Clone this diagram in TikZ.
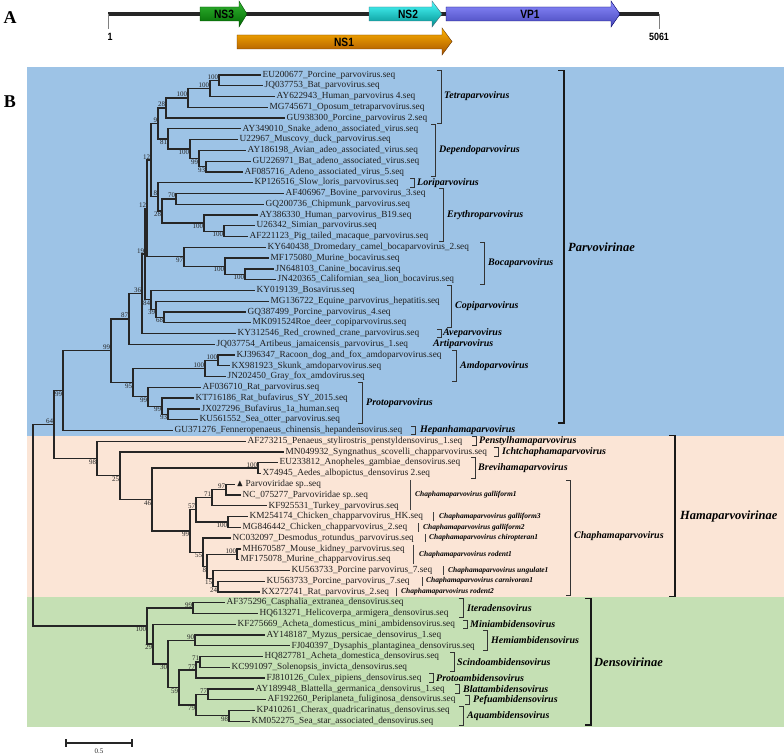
\documentclass[tikz,border=0pt]{standalone}
\usepackage{fontspec}
\usepackage{amssymb}
\setmainfont{Liberation Serif}
\newfontfamily\genefont[FakeStretch=0.85]{Liberation Sans}
\definecolor{parvoblue}{HTML}{9DC3E6}
\definecolor{hamapeach}{HTML}{FBE5D6}
\definecolor{densogreen}{HTML}{C5E0B4}

\begin{document}
\begin{tikzpicture}
      [
        x=1pt, y=-1pt,
        leaf/.style={anchor=west, inner xsep=1.5pt, inner ysep=0pt, font=\fontsize{9.3}{10}\selectfont, text=black!88},
        boot/.style={inner sep=0.8pt, font=\fontsize{7}{8}\selectfont, text=black!85},
        branch/.style={draw=black!85, line width=1.3pt},
        gbrack/.style={draw=black!80, line width=0.8pt},
        fbrack/.style={draw=black!90, line width=1.4pt},
        sbar/.style={draw=black!75, line width=0.6pt},
        genus/.style={anchor=west, inner sep=0pt, font=\fontsize{10}{11}\selectfont\bfseries\itshape},
        species/.style={anchor=west, inner sep=0pt, font=\fontsize{7.5}{8}\selectfont\bfseries\itshape},
        family/.style={anchor=west, inner sep=0pt, font=\fontsize{12.5}{13}\selectfont\bfseries\itshape},
        gene/.style={inner sep=0pt, font=\genefont\fontsize{12}{12}\selectfont\bfseries},
        ntpos/.style={inner sep=0pt, font=\genefont\fontsize{10.5}{11}\selectfont\bfseries},
        panel/.style={inner sep=0pt, font=\fontsize{18}{18}\selectfont\bfseries}
      ]
      \useasboundingbox (0,0) rectangle (784,754);
      \fill[parvoblue] (27,67) rectangle (784,436);
      \fill[hamapeach] (27,436) rectangle (784,597);
      \fill[densogreen] (27,597) rectangle (784,727);

      \node[panel] (pa) at (10,18) {A};
      \node[panel] (pb) at (10,102) {B};
      \draw[line width=4.5pt, black!85] (108,14) -- (659,14);
      \draw[black!50, line width=0.6pt] (108,14) -- (108,29);
      \draw[black!50, line width=0.6pt] (659,14) -- (659,29);
      \node[ntpos] (p1) at (110,37) {1};
      \node[ntpos] (p5061) at (659,37) {5061};
      \shade[top color=green!65!black!80, bottom color=green!40!black, draw=green!30!black, line width=0.4pt]
        (200,7) -- (239,7) -- (239,1) -- (247,14) -- (239,27) -- (239,21) -- (200,21) -- cycle;
      \shade[top color=cyan!70!white, bottom color=cyan!55!black, draw=cyan!40!black, line width=0.4pt]
        (369,7) -- (432,7) -- (432,1) -- (442,14) -- (432,27) -- (432,21) -- (369,21) -- cycle;
      \shade[top color=blue!45!white, bottom color=blue!45!gray, draw=blue!40!black, line width=0.4pt]
        (446,7) -- (611,7) -- (611,1) -- (620,14) -- (611,27) -- (611,21) -- (446,21) -- cycle;
      \shade[top color=orange!60!yellow, bottom color=orange!65!black, draw=orange!40!black, line width=0.4pt]
        (237,35) -- (442,35) -- (442,28) -- (452,41.5) -- (442,55) -- (442,49) -- (237,49) -- cycle;
      \node[gene] (ns3) at (224,14) {NS3};
      \node[gene] (ns2) at (408,14) {NS2};
      \node[gene] (vp1) at (530,14) {VP1};
      \node[gene] (ns1) at (344,42) {NS1};

      \draw[line width=1.5pt, black!85] (66,743) -- (132,743);
      \draw[line width=1.5pt, black!85] (66,739) -- (66,747);
      \draw[line width=1.5pt, black!85] (132,739) -- (132,747);
      \node[boot] (scale) at (99,751) {0.5};

      \begin{scope}[yshift=-64.23pt, y=-10.77pt]
      \node[leaf] (l1) at (261,1) {EU200677\_Porcine\_parvovirus.seq};
      \node[leaf] (l2) at (263,2) {JQ037753\_Bat\_parvovirus.seq};
      \node[leaf] (l3) at (275,3) {AY622943\_Human\_parvovirus 4.seq};
      \node[leaf] (l4) at (268,4) {MG745671\_Oposum\_tetraparvovirus.seq};
      \node[leaf] (l5) at (285,5) {GU938300\_Porcine\_parvovirus 2.seq};
      \node[leaf] (l6) at (241,6) {AY349010\_Snake\_adeno\_associated\_virus.seq};
      \node[leaf] (l7) at (238,7) {U22967\_Muscovy\_duck\_parvovirus.seq};
      \node[leaf] (l8) at (246,8) {AY186198\_Avian\_adeo\_associated\_virus.seq};
      \node[leaf] (l9) at (251,9) {GU226971\_Bat\_adeno\_associated\_virus.seq};
      \node[leaf] (l10) at (243,10) {AF085716\_Adeno\_associated\_virus\_5.seq};
      \node[leaf] (l11) at (253,11) {KP126516\_Slow\_loris\_parvovirus.seq};
      \node[leaf] (l12) at (284,12) {AF406967\_Bovine\_parvovirus\_3.seq};
      \node[leaf] (l13) at (264,13) {GQ200736\_Chipmunk\_parvovirus.seq};
      \node[leaf] (l14) at (258,14) {AY386330\_Human\_parvovirus\_B19.seq};
      \node[leaf] (l15) at (255,15) {U26342\_Simian\_parvovirus.seq};
      \node[leaf] (l16) at (248,16) {AF221123\_Pig\_tailed\_macaque\_parvovirus.seq};
      \node[leaf] (l17) at (266,17) {KY640438\_Dromedary\_camel\_bocaparvovirus\_2.seq};
      \node[leaf] (l18) at (269,18) {MF175080\_Murine\_bocavirus.seq};
      \node[leaf] (l19) at (274,19) {JN648103\_Canine\_bocavirus.seq};
      \node[leaf] (l20) at (276,20) {JN420365\_Californian\_sea\_lion\_bocavirus.seq};
      \node[leaf] (l21) at (255,21) {KY019139\_Bosavirus.seq};
      \node[leaf] (l22) at (269,22) {MG136722\_Equine\_parvovirus\_hepatitis.seq};
      \node[leaf] (l23) at (246,23) {GQ387499\_Porcine\_parvovirus\_4.seq};
      \node[leaf] (l24) at (251,24) {MK091524Roe\_deer\_copiparvovirus.seq};
      \node[leaf] (l25) at (236,25) {KY312546\_Red\_crowned\_crane\_parvovirus.seq};
      \node[leaf] (l26) at (215,26) {JQ037754\_Artibeus\_jamaicensis\_parvovirus\_1.seq};
      \node[leaf] (l27) at (235,27) {KJ396347\_Racoon\_dog\_and\_fox\_amdoparvovirus.seq};
      \node[leaf] (l28) at (230,28) {KX981923\_Skunk\_amdoparvovirus.seq};
      \node[leaf] (l29) at (226,29) {JN202450\_Gray\_fox\_amdovirus.seq};
      \node[leaf] (l30) at (201,30) {AF036710\_Rat\_parvovirus.seq};
      \node[leaf] (l31) at (194,31) {KT716186\_Rat\_bufavirus\_SY\_2015.seq};
      \node[leaf] (l32) at (200,32) {JX027296\_Bufavirus\_1a\_human.seq};
      \node[leaf] (l33) at (198,33) {KU561552\_Sea\_otter\_parvovirus.seq};
      \node[leaf] (l34) at (173,34) {GU371276\_Fenneropenaeus\_chinensis\_hepandensovirus.seq};
      \node[leaf] (l35) at (246,35) {AF273215\_Penaeus\_stylirostris\_penstyldensovirus\_1.seq};
      \node[leaf] (l36) at (284,36) {MN049932\_Syngnathus\_scovelli\_chapparvovirus.seq};
      \node[leaf] (l37) at (278,37) {EU233812\_Anopheles\_gambiae\_densovirus.seq};
      \node[leaf] (l38) at (261,38) {X74945\_Aedes\_albopictus\_densovirus 2.seq};
      \node[leaf] (l39) at (235,39) {$\blacktriangle$ Parvoviridae sp..seq};
      \node[leaf] (l40) at (241,40) {NC\_075277\_Parvoviridae sp..seq};
      \node[leaf] (l41) at (267,41) {KF925531\_Turkey\_parvovirus.seq};
      \node[leaf] (l42) at (248,42) {KM254174\_Chicken\_chapparvovirus\_HK.seq};
      \node[leaf] (l43) at (241,43) {MG846442\_Chicken\_chapparvovirus\_2.seq};
      \node[leaf] (l44) at (231,44) {NC032097\_Desmodus\_rotundus\_parvovirus.seq};
      \node[leaf] (l45) at (241,45) {MH670587\_Mouse\_kidney\_parvovirus.seq};
      \node[leaf] (l46) at (239,46) {MF175078\_Murine\_chapparvovirus.seq};
      \node[leaf] (l47) at (290,47) {KU563733\_Porcine parvovirus\_7.seq};
      \node[leaf] (l48) at (265,48) {KU563733\_Porcine\_parvovirus\_7.seq};
      \node[leaf] (l49) at (260,49) {KX272741\_Rat\_parvovirus\_2.seq};
      \node[leaf] (l50) at (225,50) {AF375296\_Casphalia\_extranea\_densovirus.seq};
      \node[leaf] (l51) at (258,51) {HQ613271\_Helicoverpa\_armigera\_densovirus.seq};
      \node[leaf] (l52) at (236,52) {KF275669\_Acheta\_domesticus\_mini\_ambidensovirus.seq};
      \node[leaf] (l53) at (265,53) {AY148187\_Myzus\_persicae\_densovirus\_1.seq};
      \node[leaf] (l54) at (290,54) {FJ040397\_Dysaphis\_plantaginea\_densovirus.seq};
      \node[leaf] (l55) at (263,55) {HQ827781\_Acheta\_domestica\_densovirus.seq};
      \node[leaf] (l56) at (230,56) {KC991097\_Solenopsis\_invicta\_densovirus.seq};
      \node[leaf] (l57) at (265,57) {FJ810126\_Culex\_pipiens\_densovirus.seq};
      \node[leaf] (l58) at (254,58) {AY189948\_Blattella\_germanica\_densovirus\_1.seq};
      \node[leaf] (l59) at (266,59) {AF192260\_Periplaneta\_fuliginosa\_densovirus.seq};
      \node[leaf] (l60) at (255,60) {KP410261\_Cherax\_quadricarinatus\_densovirus.seq};
      \node[leaf] (l61) at (250,61) {KM052275\_Sea\_star\_associated\_densovirus.seq};

      \coordinate (t1) at (219,1.5);
      \coordinate (t2) at (210,2.25);
      \coordinate (t3) at (188,3.125);
      \coordinate (t4) at (166,4.0625);
      \coordinate (d1) at (206,9.5);
      \coordinate (d2) at (199,8.75);
      \coordinate (d3) at (190,7.875);
      \coordinate (d4) at (168,6.9375);
      \coordinate (n9) at (158,5.5);
      \coordinate (e1) at (224,15.5);
      \coordinate (e2) at (204,14.75);
      \coordinate (e3) at (176,12.5);
      \coordinate (e4) at (162,13.625);
      \coordinate (n8) at (158,12.3125);
      \coordinate (n12a) at (151,8.906);
      \coordinate (b1) at (245,19.5);
      \coordinate (b2) at (225,18.75);
      \coordinate (b3) at (184,17.875);
      \coordinate (n12b) at (147,13.39);
      \coordinate (c1) at (164,23.5);
      \coordinate (c2) at (156,22.75);
      \coordinate (c3) at (151,21.875);
      \coordinate (n19) at (145,17.63);
      \coordinate (n36) at (142,21.32);
      \coordinate (n87) at (129,23.66);
      \coordinate (a1) at (218,27.5);
      \coordinate (a2) at (205,28.25);
      \coordinate (p3) at (168,32.5);
      \coordinate (p2) at (162,31.75);
      \coordinate (p1) at (148,30.875);
      \coordinate (n95) at (133,29.5625);
      \coordinate (n99a) at (111,26.61);
      \coordinate (n99b) at (63,30.305);
      \coordinate (h97) at (226,39.5);
      \coordinate (h71) at (212,40.25);
      \coordinate (h100) at (228,42.5);
      \coordinate (h57) at (196,41.375);
      \coordinate (r100) at (237,45.5);
      \coordinate (r24) at (218,48.5);
      \coordinate (r15) at (213,47.75);
      \coordinate (r8) at (207,46.625);
      \coordinate (r55) at (203,45.3125);
      \coordinate (h99) at (190,43.34);
      \coordinate (br) at (258,37.5);
      \coordinate (h46) at (152,40.42);
      \coordinate (h25) at (120,38.21);
      \coordinate (h98) at (97,36.6);
      \coordinate (n64) at (54,33.45);
      \coordinate (s99) at (193,50.5);
      \coordinate (s90) at (195,53.5);
      \coordinate (s71) at (200,55.5);
      \coordinate (s77a) at (196,56.25);
      \coordinate (s77b) at (208,58.5);
      \coordinate (s98) at (229,60.5);
      \coordinate (s79) at (196,59.5);
      \coordinate (s59) at (179,57.875);
      \coordinate (s30) at (168,55.69);
      \coordinate (s29) at (153,53.84);
      \coordinate (s100) at (147,52.17);
      \coordinate (root) at (33,42.81);

      \draw[branch] (t1) |- (l1.west);
      \draw[branch] (t1) |- (l2.west);
      \draw[branch] (t2) |- (t1);
      \draw[branch] (t2) |- (l3.west);
      \draw[branch] (t3) |- (t2);
      \draw[branch] (t3) |- (l4.west);
      \draw[branch] (t4) |- (t3);
      \draw[branch] (t4) |- (l5.west);
      \draw[branch] (d1) |- (l9.west);
      \draw[branch] (d1) |- (l10.west);
      \draw[branch] (d2) |- (l8.west);
      \draw[branch] (d2) |- (d1);
      \draw[branch] (d3) |- (l7.west);
      \draw[branch] (d3) |- (d2);
      \draw[branch] (d4) |- (l6.west);
      \draw[branch] (d4) |- (d3);
      \draw[branch] (n9) |- (t4);
      \draw[branch] (n9) |- (d4);
      \draw[branch] (e1) |- (l15.west);
      \draw[branch] (e1) |- (l16.west);
      \draw[branch] (e2) |- (l14.west);
      \draw[branch] (e2) |- (e1);
      \draw[branch] (e3) |- (l12.west);
      \draw[branch] (e3) |- (l13.west);
      \draw[branch] (e4) |- (e3);
      \draw[branch] (e4) |- (e2);
      \draw[branch] (n8) |- (l11.west);
      \draw[branch] (n8) |- (e4);
      \draw[branch] (n12a) |- (n9);
      \draw[branch] (n12a) |- (n8);
      \draw[branch] (b1) |- (l19.west);
      \draw[branch] (b1) |- (l20.west);
      \draw[branch] (b2) |- (l18.west);
      \draw[branch] (b2) |- (b1);
      \draw[branch] (b3) |- (l17.west);
      \draw[branch] (b3) |- (b2);
      \draw[branch] (n12b) |- (n12a);
      \draw[branch] (n12b) |- (b3);
      \draw[branch] (c1) |- (l23.west);
      \draw[branch] (c1) |- (l24.west);
      \draw[branch] (c2) |- (l22.west);
      \draw[branch] (c2) |- (c1);
      \draw[branch] (c3) |- (l21.west);
      \draw[branch] (c3) |- (c2);
      \draw[branch] (n19) |- (n12b);
      \draw[branch] (n19) |- (c3);
      \draw[branch] (n36) |- (n19);
      \draw[branch] (n36) |- (l25.west);
      \draw[branch] (n87) |- (n36);
      \draw[branch] (n87) |- (l26.west);
      \draw[branch] (a1) |- (l27.west);
      \draw[branch] (a1) |- (l28.west);
      \draw[branch] (a2) |- (a1);
      \draw[branch] (a2) |- (l29.west);
      \draw[branch] (p3) |- (l32.west);
      \draw[branch] (p3) |- (l33.west);
      \draw[branch] (p2) |- (l31.west);
      \draw[branch] (p2) |- (p3);
      \draw[branch] (p1) |- (l30.west);
      \draw[branch] (p1) |- (p2);
      \draw[branch] (n95) |- (a2);
      \draw[branch] (n95) |- (p1);
      \draw[branch] (n99a) |- (n87);
      \draw[branch] (n99a) |- (n95);
      \draw[branch] (n99b) |- (n99a);
      \draw[branch] (n99b) |- (l34.west);
      \draw[branch] (h97) |- (l39.west);
      \draw[branch] (h97) |- (l40.west);
      \draw[branch] (h71) |- (h97);
      \draw[branch] (h71) |- (l41.west);
      \draw[branch] (h100) |- (l42.west);
      \draw[branch] (h100) |- (l43.west);
      \draw[branch] (h57) |- (h71);
      \draw[branch] (h57) |- (h100);
      \draw[branch] (r100) |- (l45.west);
      \draw[branch] (r100) |- (l46.west);
      \draw[branch] (r24) |- (l48.west);
      \draw[branch] (r24) |- (l49.west);
      \draw[branch] (r15) |- (l47.west);
      \draw[branch] (r15) |- (r24);
      \draw[branch] (r8) |- (r100);
      \draw[branch] (r8) |- (r15);
      \draw[branch] (r55) |- (l44.west);
      \draw[branch] (r55) |- (r8);
      \draw[branch] (h99) |- (h57);
      \draw[branch] (h99) |- (r55);
      \draw[branch] (br) |- (l37.west);
      \draw[branch] (br) |- (l38.west);
      \draw[branch] (h46) |- (br);
      \draw[branch] (h46) |- (h99);
      \draw[branch] (h25) |- (l36.west);
      \draw[branch] (h25) |- (h46);
      \draw[branch] (h98) |- (l35.west);
      \draw[branch] (h98) |- (h25);
      \draw[branch] (n64) |- (n99b);
      \draw[branch] (n64) |- (h98);
      \draw[branch] (s99) |- (l50.west);
      \draw[branch] (s99) |- (l51.west);
      \draw[branch] (s90) |- (l53.west);
      \draw[branch] (s90) |- (l54.west);
      \draw[branch] (s71) |- (l55.west);
      \draw[branch] (s71) |- (l56.west);
      \draw[branch] (s77a) |- (s71);
      \draw[branch] (s77a) |- (l57.west);
      \draw[branch] (s77b) |- (l58.west);
      \draw[branch] (s77b) |- (l59.west);
      \draw[branch] (s98) |- (l60.west);
      \draw[branch] (s98) |- (l61.west);
      \draw[branch] (s79) |- (s77b);
      \draw[branch] (s79) |- (s98);
      \draw[branch] (s59) |- (s77a);
      \draw[branch] (s59) |- (s79);
      \draw[branch] (s30) |- (s90);
      \draw[branch] (s30) |- (s59);
      \draw[branch] (s29) |- (l52.west);
      \draw[branch] (s29) |- (s30);
      \draw[branch] (s100) |- (s99);
      \draw[branch] (s100) |- (s29);
      \draw[branch] (root) |- (n64);
      \draw[branch] (root) |- (s100);

      \node[boot, above left] (bt1) at (t1) {100};
      \node[boot, above left] (bt2) at (t2) {100};
      \node[boot, above left] (bt3) at (t3) {100};
      \node[boot, above left] (bt4) at (t4) {28};
      \node[boot, below left] (bd1) at (d1) {93};
      \node[boot, below left] (bd2) at (d2) {99};
      \node[boot, below left] (bd3) at (d3) {100};
      \node[boot, below left] (bd4) at (d4) {81};
      \node[boot, above left] (bn9) at (n9) {9};
      \node[boot, below left] (be1) at (e1) {100};
      \node[boot, below left] (be2) at (e2) {100};
      \node[boot, above left] (be3) at (e3) {70};
      \node[boot, below left] (be4) at (e4) {28};
      \node[boot, above left] (bn8) at (n8) {8};
      \node[boot, above left] (bn12a) at (n12a) {12};
      \node[boot, below left] (bb1) at (b1) {100};
      \node[boot, below left] (bb2) at (b2) {100};
      \node[boot, below left] (bb3) at (b3) {97};
      \node[boot, above left] (bn12b) at (n12b) {12};
      \node[boot, below left] (bc1) at (c1) {68};
      \node[boot, below left] (bc2) at (c2) {39};
      \node[boot, below left] (bc3) at (c3) {84};
      \node[boot, above left] (bn19) at (n19) {19};
      \node[boot, above left] (bn36) at (n36) {36};
      \node[boot, above left] (bn87) at (n87) {87};
      \node[boot, above left] (ba1) at (a1) {100};
      \node[boot, above left] (ba2) at (a2) {100};
      \node[boot, below left] (bp3) at (p3) {93};
      \node[boot, below left] (bp2) at (p2) {99};
      \node[boot, below left] (bp1) at (p1) {99};
      \node[boot, below left] (bn95) at (n95) {95};
      \node[boot, above left] (bn99a) at (n99a) {99};
      \node[boot, below left] (bn99b) at (n99b) {99};
      \node[boot, above left] (bh97) at (h97) {97};
      \node[boot, above left] (bh71) at (h71) {71};
      \node[boot, below left] (bh100) at (h100) {100};
      \node[boot, above left] (bh57) at (h57) {57};
      \node[boot, above left] (br100) at (r100) {100};
      \node[boot, below left] (br24) at (r24) {24};
      \node[boot, below left] (br15) at (r15) {15};
      \node[boot, below left] (br8) at (r8) {8};
      \node[boot, below left] (br55) at (r55) {55};
      \node[boot, below left] (bh99) at (h99) {99};
      \node[boot, above left] (bbr) at (br) {100};
      \node[boot, below left] (bh46) at (h46) {46};
      \node[boot, below left] (bh25) at (h25) {25};
      \node[boot, below left] (bh98) at (h98) {98};
      \node[boot, above left] (bn64) at (n64) {64};
      \node[boot, above left] (bs99) at (s99) {99};
      \node[boot, above left] (bs90) at (s90) {90};
      \node[boot, above left] (bs71) at (s71) {71};
      \node[boot, above left] (bs77a) at (s77a) {77};
      \node[boot, above left] (bs77b) at (s77b) {77};
      \node[boot, below left] (bs98) at (s98) {98};
      \node[boot, below left] (bs79) at (s79) {79};
      \node[boot, below left] (bs59) at (s59) {59};
      \node[boot, below left] (bs30) at (s30) {30};
      \node[boot, below left] (bs29) at (s29) {29};
      \node[boot, below left] (bs100) at (s100) {100};

      \draw[gbrack] (437,0.6) -- (441,0.6) -- (441,5.45) -- (437,5.45);
      \node[genus] (tetra) at (444,3) {Tetraparvovirus};
      \draw[gbrack] (431,5.55) -- (435,5.55) -- (435,10.45) -- (431,10.45);
      \node[genus] (dependo) at (439,8) {Dependoparvovirus};
      \draw[gbrack] (410,10.6) -- (414,10.6) -- (414,11.4) -- (410,11.4);
      \node[genus] (lori) at (417,11) {Loriparvovirus};
      \draw[gbrack] (439,11.55) -- (443,11.55) -- (443,16.45) -- (439,16.45);
      \node[genus] (erythro) at (447,14) {Erythroparvovirus};
      \draw[gbrack] (480,16.55) -- (484,16.55) -- (484,20.45) -- (480,20.45);
      \node[genus] (boca) at (488,18.5) {Bocaparvovirus};
      \draw[gbrack] (447,20.55) -- (451,20.55) -- (451,24.45) -- (447,24.45);
      \node[genus] (copi) at (455,22.5) {Copiparvovirus};
      \draw[gbrack] (437,24.6) -- (441,24.6) -- (441,25.4) -- (437,25.4);
      \node[genus] (ave) at (443,25) {Aveparvovirus};
      \node[genus] (arti) at (433,26) {Artiparvovirus};
      \draw[gbrack] (452,26.55) -- (456,26.55) -- (456,29.45) -- (452,29.45);
      \node[genus] (amdo) at (460,28) {Amdoparvovirus};
      \draw[gbrack] (358,29.55) -- (362,29.55) -- (362,33.35) -- (358,33.35);
      \node[genus] (proto) at (366,31.5) {Protoparvovirus};
      \draw[gbrack] (411,33.6) -- (415,33.6) -- (415,34.4) -- (411,34.4);
      \node[genus] (hepan) at (420,34) {Hepanhamaparvovirus};
      \draw[fbrack] (558,0.6) -- (564,0.6) -- (564,33.3) -- (558,33.3);
      \node[family] (parvo) at (568,17) {Parvovirinae};

      \draw[gbrack] (472,34.6) -- (476,34.6) -- (476,35.4) -- (472,35.4);
      \node[genus] (penstyl) at (479,35) {Penstylhamaparvovirus};
      \draw[gbrack] (494,35.6) -- (498,35.6) -- (498,36.4) -- (494,36.4);
      \node[genus] (ichtcha) at (502,36) {Ichtchaphamaparvovirus};
      \draw[gbrack] (471,36.55) -- (475,36.55) -- (475,38.45) -- (471,38.45);
      \node[genus] (brevi) at (478,37.5) {Brevihamaparvovirus};
      \draw[gbrack] (566,38.6) -- (570,38.6) -- (570,49.3) -- (566,49.3);
      \node[genus] (chapha) at (574,43.8) {Chaphamaparvovirus};
      \draw[sbar] (410,38.6) -- (410,41.4);
      \node[species] (gall1) at (415,40) {Chaphamaparvovirus galliform1};
      \draw[sbar] (433,41.6) -- (433,42.4);
      \node[species] (gall3) at (439,42) {Chaphamaparvovirus galliform3};
      \draw[sbar] (418,42.6) -- (418,43.4);
      \node[species] (gall2) at (423,43) {Chaphamaparvovirus galliform2};
      \draw[sbar] (425,43.6) -- (425,44.4);
      \node[species] (chiro1) at (429,44) {Chaphamaparvovirus chiropteran1};
      \draw[sbar] (413,44.6) -- (413,46.4);
      \node[species] (rod1) at (419,45.5) {Chaphamaparvovirus rodent1};
      \draw[sbar] (443,46.6) -- (443,47.4);
      \node[species] (ungu1) at (448,47) {Chaphamaparvovirus ungulate1};
      \draw[sbar] (422,47.6) -- (422,48.4);
      \node[species] (carni1) at (426,48) {Chaphamaparvovirus carnivoran1};
      \draw[sbar] (396,48.6) -- (396,49.4);
      \node[species] (rod2) at (401,49) {Chaphamaparvovirus rodent2};
      \draw[fbrack] (669,34.5) -- (675,34.5) -- (675,49.4) -- (669,49.4);
      \node[family] (hama) at (680,42) {Hamaparvovirinae};

      \draw[gbrack] (459,49.6) -- (463,49.6) -- (463,51.4) -- (459,51.4);
      \node[genus] (itera) at (467,50.5) {Iteradensovirus};
      \draw[gbrack] (463,51.6) -- (467,51.6) -- (467,52.4) -- (463,52.4);
      \node[genus] (mini) at (470,52) {Miniambidensovirus};
      \draw[gbrack] (483,52.6) -- (487,52.6) -- (487,54.4) -- (483,54.4);
      \node[genus] (hemi) at (491,53.5) {Hemiambidensovirus};
      \draw[gbrack] (450,54.6) -- (454,54.6) -- (454,56.4) -- (450,56.4);
      \node[genus] (scindo) at (457,55.5) {Scindoambidensovirus};
      \draw[gbrack] (429,56.6) -- (433,56.6) -- (433,57.4) -- (429,57.4);
      \node[genus] (protoambi) at (436,57) {Protoambidensovirus};
      \draw[gbrack] (455,57.6) -- (459,57.6) -- (459,58.4) -- (455,58.4);
      \node[genus] (blatt) at (463,58) {Blattambidensovirus};
      \draw[gbrack] (465,58.6) -- (469,58.6) -- (469,59.4) -- (465,59.4);
      \node[genus] (pefu) at (473,59) {Pefuambidensovirus};
      \draw[gbrack] (459,59.6) -- (463,59.6) -- (463,61.4) -- (459,61.4);
      \node[genus] (aqua) at (467,60.5) {Aquambidensovirus};
      \draw[fbrack] (585,49.6) -- (591,49.6) -- (591,61.35) -- (585,61.35);
      \node[family] (denso) at (594,55.5) {Densovirinae};
      \end{scope}
    \end{tikzpicture}
\end{document}
